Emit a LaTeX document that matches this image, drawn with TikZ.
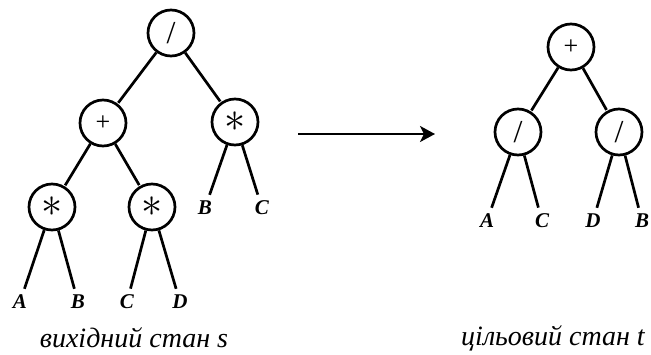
\documentclass[tikz,border=0pt]{standalone}
\usepackage{fontspec}
\setmainfont{Liberation Serif}
\usetikzlibrary{arrows.meta}

\newcommand{\opstar}{\scalebox{1.7}{$\ast$}}

\begin{document}
\begin{tikzpicture}[x=1pt,y=-1pt,-,line width=2.7pt,shorten >=1pt,
    op node/.style={circle,draw=black,line width=2.7pt,inner sep=0pt,minimum size=46pt,font=\fontsize{26}{26}\selectfont},
    leaf node/.style={inner sep=4pt,font=\fontsize{21}{21}\selectfont\itshape\bfseries},
    caption node/.style={font=\fontsize{28}{28}\selectfont\itshape}]
    \useasboundingbox (0,0) rectangle (651,354);

    % source tree
    \node[op node] (1) at (171,33) {\fontsize{32}{32}\selectfont/};
    \node[op node] (2) at (103,123) {+};
    \node[op node] (3) at (235,122) {\opstar};
    \node[op node] (4) at (52,207) {\opstar};
    \node[op node] (5) at (152,207) {\opstar};
    \node[leaf node] (6) at (20,302) {A};
    \node[leaf node] (7) at (78,302) {B};
    \node[leaf node] (8) at (127,302) {C};
    \node[leaf node] (9) at (180,302) {D};
    \node[leaf node] (10) at (205,208) {B};
    \node[leaf node] (11) at (262,208) {C};

    \path
        (1) edge (2)
        (1) edge (3)
        (2) edge (4)
        (2) edge (5)
        (4) edge (6)
        (4) edge (7)
        (5) edge (8)
        (5) edge (9)
        (3) edge (10)
        (3) edge (11)
        ;

    % target tree
    \node[op node] (12) at (571,47) {+};
    \node[op node] (13) at (518,132) {\fontsize{32}{32}\selectfont/};
    \node[op node] (14) at (619,132) {\fontsize{32}{32}\selectfont/};
    \node[leaf node] (15) at (487,221) {A};
    \node[leaf node] (16) at (542,221) {C};
    \node[leaf node] (17) at (593,221) {D};
    \node[leaf node] (18) at (642,221) {B};

    \path
        (12) edge (13)
        (12) edge (14)
        (13) edge (15)
        (13) edge (16)
        (14) edge (17)
        (14) edge (18)
        ;

    % transition arrow
    \coordinate (from) at (298,134);
    \coordinate (to) at (436,134);
    \draw[-{Stealth[length=15pt,width=16pt,inset=4pt]},line width=2.8pt] (from) -- (to);

    \node[caption node] (s) at (134,338) {вихідний стан s};
    \node[caption node] (t) at (553,338) {цільовий стан t};
\end{tikzpicture}
\end{document}
